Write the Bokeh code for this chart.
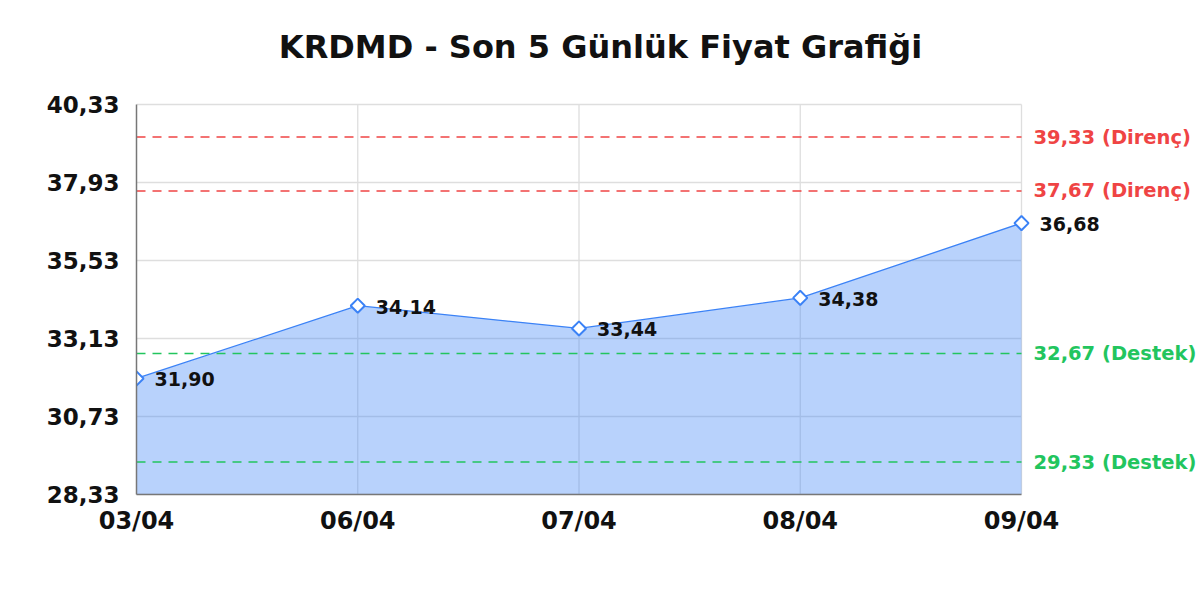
from bokeh.plotting import figure
from bokeh.models import ColumnDataSource, FixedTicker, LabelSet, Label, Range1d
from bokeh.core.properties import value
from bokeh.embed import file_html
from bokeh.resources import INLINE

dates = ["03/04", "06/04", "07/04", "08/04", "09/04"]
prices = [31.90, 34.14, 33.44, 34.38, 36.68]
price_labels = ["31,90", "34,14", "33,44", "34,38", "36,68"]
y_ticks = [28.33, 30.73, 33.13, 35.53, 37.93, 40.33]
y_tick_labels = ["28,33", "30,73", "33,13", "35,53", "37,93", "40,33"]
levels = [39.33, 37.67, 32.67, 29.33]
level_labels = ["39,33 (Direnç)", "37,67 (Direnç)", "32,67 (Destek)", "29,33 (Destek)"]
level_colors = ["#ef4444", "#ef4444", "#22c55e", "#22c55e"]
title_text = "KRDMD - Son 5 Günlük Fiyat Grafiği"

FONT = "DejaVu Sans"
xs = list(range(len(dates)))
x_last = len(dates) - 1
y0, y1 = y_ticks[0], y_ticks[-1]

# Layout (pixels). The frame covers the whole area right of the y axis and above the
# x axis, so that the title and the right-hand labels can be drawn inside it; the
# plotting area proper is 885 x 390 px, starting 104 px below the top.
W, H = 1200, 584
LEFT, BOTTOM = 136, 90
DATA_W, DATA_H, DATA_TOP = 885, 390, 104
FRAME_W, FRAME_H = W - LEFT, H - BOTTOM
px_x = DATA_W / x_last
px_y = DATA_H / (y1 - y0)
x_end = FRAME_W / px_x
y_end = y0 + FRAME_H / px_y

p = figure(width=W, height=H, output_backend="svg", toolbar_location=None,
           x_range=Range1d(0, x_end), y_range=Range1d(y0, y_end),
           min_border_left=LEFT, min_border_right=0, min_border_top=0, min_border_bottom=BOTTOM)
p.outline_line_color = None
p.grid.grid_line_color = None

src = ColumnDataSource(dict(x=xs, y=prices, lab=price_labels, base=[y0] * len(xs)))

# grid lines limited to the plotting area
gsrc = ColumnDataSource(dict(y=y_ticks, x0=[0] * len(y_ticks), x1=[x_last] * len(y_ticks)))
p.segment(x0="x0", y0="y", x1="x1", y1="y", source=gsrc, line_color="#dedede", line_width=1.3)
vsrc = ColumnDataSource(dict(x=xs[1:], b=[y0] * (len(xs) - 1), t=[y1] * (len(xs) - 1)))
p.segment(x0="x", y0="b", x1="x", y1="t", source=vsrc, line_color="#dedede", line_width=1.3)

p.varea(x="x", y1="base", y2="y", source=src, fill_color="#3b82f6", fill_alpha=0.36)

lsrc = ColumnDataSource(dict(x0=[0] * len(levels), x1=[x_last] * len(levels), y=levels,
                             lab=level_labels, c=level_colors))
p.segment(x0="x0", y0="y", x1="x1", y1="y", source=lsrc, line_color="c", line_dash="9 7",
          line_width=1.4)

p.line(x="x", y="y", source=src, line_color="#3b82f6", line_width=1.3)
p.scatter(x="x", y="y", source=src, marker="square", angle=0.785398, size=10, fill_color="white",
          line_color="#3b82f6", line_width=2)

p.add_layout(LabelSet(x="x", y="y", text="lab", source=src, x_offset=18, y_offset=-1,
                      text_font=value(FONT), text_font_size="19px", text_font_style="bold",
                      text_baseline="middle", text_color="#111111"))

p.add_layout(LabelSet(x="x1", y="y", text="lab", source=lsrc, x_offset=12, text_color="c",
                      text_font=value(FONT), text_font_size="19.5px", text_font_style="bold",
                      text_baseline="middle"))

# title: centred on the page, near the top
p.add_layout(Label(x=(W / 2 - LEFT) / px_x, y=y1 + (DATA_TOP - 46) / px_y, text=title_text,
                   text_font=FONT, text_font_size="32px", text_font_style="bold",
                   text_color="#111111", text_align="center", text_baseline="alphabetic"))

p.xaxis.ticker = FixedTicker(ticks=xs)
p.xaxis.major_label_overrides = {i: d for i, d in zip(xs, dates)}
p.xaxis.bounds = (0, x_last)
p.yaxis.ticker = FixedTicker(ticks=y_ticks)
p.yaxis.major_label_overrides = {t: l for t, l in zip(y_ticks, y_tick_labels)}
p.yaxis.bounds = (y0, y1)
for ax in (p.xaxis, p.yaxis):
    ax.major_label_text_font = FONT
    ax.major_label_text_font_style = "bold"
    ax.major_label_text_color = "#111111"
    ax.axis_line_color = "#777777"
    ax.axis_line_width = 1.5
    ax.major_tick_line_color = None
    ax.minor_tick_line_color = None
p.xaxis.major_label_text_font_size = "24px"
p.yaxis.major_label_text_font_size = "23px"
p.xaxis.major_label_standoff = 6
p.yaxis.major_label_standoff = 11

open("out.html", "w").write(file_html(p, INLINE))
